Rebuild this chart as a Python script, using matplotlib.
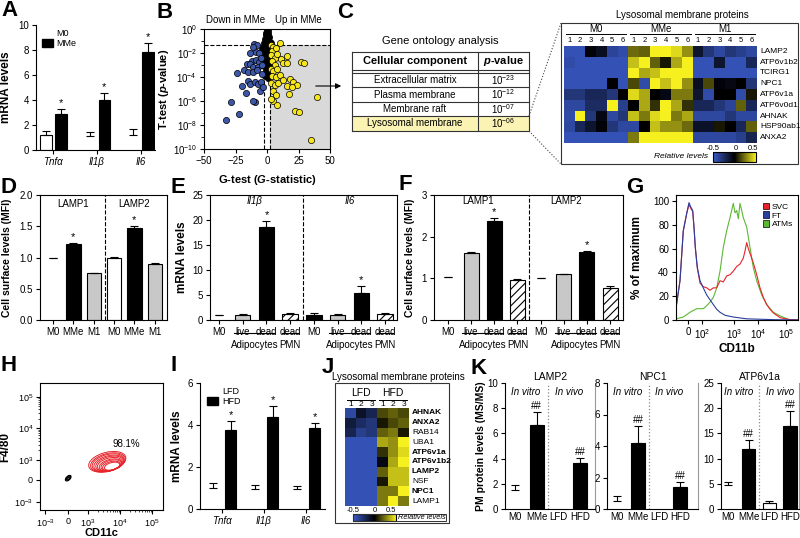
import numpy as np
import matplotlib
matplotlib.use('Agg')
import matplotlib.pyplot as plt
from matplotlib.colors import LinearSegmentedColormap, Normalize
from matplotlib.patches import Rectangle, Ellipse, Patch
from matplotlib.cm import ScalarMappable

# ======================= DATA =======================
A_genes = ['Tnfα', 'Il1β', 'Il6']
A_m0 = [1.2, 1.1, 1.2]
A_m0_err = [0.32, 0.35, 0.45]
A_mme = [2.9, 4.0, 7.85]
A_mme_err = [0.38, 0.56, 0.72]

B_down_x = [-10.3, -7.7, -13.5, -8.7, -6.6, -12.2, -8.7, -6.1, -16.1, -13.5, -10.8, -6.9, -4.2, -18.3,
            -14.8, -10.8, -7.7, -4.2, -23.5, -20.1, -16.7, -15.3, -13.5, -9.5, -6.9, -5.6, -9.5, -10.8,
            -28.6, -22.0, -32.5, -4.5, -3.0, -11.5, -5.0]
B_down_lp = [-1.26, -1.34, -1.96, -1.9, -2.04, -2.66, -2.55, -2.75, -2.88, -2.88, -3.17, -3.17, -3.03,
             -3.45, -3.59, -3.59, -3.45, -3.73, -3.65, -4.79, -5.35, -4.37, -4.57, -4.43, -4.57, -5.13,
             -6.11, -5.97, -6.05, -7.1, -7.6, -4.4, -4.8, -1.5, -2.4]
B_ns_x = [0, 0.5, -0.5, 1, -1, 0, 1.5, -1.5, 0.5, -0.5, 2, -2, 1, -1, 2.5, -2.5, 0, 1.5, -1.5, 3, -3,
          0.5, 2, -2, 1, -1, 3, -3, 0, 2, -2, 1, -1, 2.5, -1.5, 0.5, -3.5, 4, -4, 3.5]
B_ns_lp = [-0.05, -0.2, -0.3, -0.45, -0.5, -0.6, -0.7, -0.8, -0.9, -1.0, -1.1, -1.15, -1.25, -1.35, -1.4,
           -1.5, -1.5, -1.65, -1.7, -1.8, -1.9, -1.95, -2.1, -2.2, -2.35, -2.5, -2.6, -2.7, -2.8, -3.0,
           -3.1, -3.3, -3.5, -3.7, -3.9, -4.1, -2.3, -2.0, -1.6, -1.2]
B_up_x = [3, 5, 4, 7, 3.5, 6, 8, 4, 6.5, 3, 5, 8, 4, 7, 3.5, 6, 9, 4.5, 7.5, 5, 8, 3, 10, 11,
          10.3, 15.9, 12.7, 15.9, 27.0, 29.4, 12.7, 18.3, 20.6, 15.9, 23.8, 19.8, 17.5, 39.7, 22.2, 25.4, 34.9]
B_up_lp = [-1.3, -1.5, -1.8, -1.6, -2.2, -2.4, -2.1, -2.7, -3.0, -3.3, -3.5, -3.3, -3.9, -4.0, -4.5, -4.7,
           -4.5, -5.2, -5.5, -6.0, -6.3, -5.8, -3.8, -2.5,
           -1.18, -2.27, -2.86, -2.86, -2.77, -2.86, -4.29, -4.2, -4.45, -4.79, -4.7, -4.87, -5.38, -5.63,
           -6.8, -6.9, -9.24]

C_terms = ['Extracellular matrix', 'Plasma membrane', 'Membrane raft', 'Lysosomal membrane']
C_pexp = ['-23', '-12', '-07', '-06']
C_groups = ['M0', 'MMe', 'M1']
C_proteins = ['LAMP2', 'ATP6v1b2', 'TCIRG1', 'NPC1', 'ATP6v1a', 'ATP6v0d1', 'AHNAK', 'HSP90ab1', 'ANXA2']
C_heat = [
    [-0.45, -0.45, -0.02, -0.08, -0.38, -0.42, 0.22, 0.2, 0.5, 0.5, 0.45, 0.3, -0.12, -0.3, -0.4, -0.3, -0.35, -0.4],
    [-0.42, -0.45, -0.45, -0.45, -0.45, -0.45, 0.4, 0.5, 0.2, 0.05, 0.35, 0.5, -0.45, -0.45, -0.12, -0.45, -0.45, -0.22],
    [-0.45, -0.45, -0.45, -0.45, -0.45, -0.45, 0.5, 0.35, 0.4, 0.5, 0.5, 0.5, -0.45, -0.45, -0.45, -0.45, -0.45, -0.45],
    [-0.45, -0.45, -0.45, -0.45, 0.0, -0.45, 0.15, -0.42, 0.5, 0.4, 0.5, 0.3, -0.08, 0.15, -0.02, -0.05, 0.0, -0.3],
    [-0.3, -0.3, -0.22, -0.22, -0.3, 0.0, 0.45, 0.35, 0.0, -0.05, 0.25, 0.25, -0.12, -0.42, 0.0, 0.0, -0.42, 0.05],
    [-0.4, -0.4, -0.25, -0.25, 0.5, -0.35, 0.0, 0.35, 0.1, 0.5, 0.35, 0.1, -0.22, -0.22, -0.3, -0.38, 0.2, -0.22],
    [-0.42, 0.5, -0.3, -0.05, -0.4, -0.3, 0.4, 0.25, 0.45, 0.5, 0.25, 0.35, -0.4, -0.4, -0.4, -0.3, -0.4, -0.4],
    [-0.4, -0.22, -0.12, -0.02, -0.3, -0.4, -0.4, 0.0, 0.4, 0.3, 0.3, 0.22, -0.1, -0.1, 0.05, 0.0, -0.22, 0.2],
    [-0.45, -0.45, -0.45, -0.45, -0.45, -0.45, 0.25, 0.5, 0.5, 0.5, 0.5, 0.5, -0.4, -0.4, -0.4, -0.4, -0.35, -0.2],
]

D_groups = ['LAMP1', 'LAMP2']
D_labels = ['M0', 'MMe', 'M1', 'M0', 'MMe', 'M1']
D_vals = [1.0, 1.22, 0.75, 1.0, 1.48, 0.89]
D_err = [0.0, 0.01, 0.01, 0.01, 0.02, 0.03]

E_genes = ['Il1β', 'Il6']
E_labels = ['M0', 'live', 'dead', 'dead', 'M0', 'live', 'dead', 'dead']
E_vals = [1.0, 1.1, 18.7, 1.3, 1.1, 1.0, 5.4, 1.3]
E_err = [0.05, 0.12, 1.1, 0.12, 0.3, 0.15, 1.5, 0.15]

F_groups = ['LAMP1', 'LAMP2']
F_labels = ['M0', 'live', 'dead', 'dead', 'M0', 'live', 'dead', 'dead']
F_vals = [1.03, 1.6, 2.37, 0.96, 1.0, 1.1, 1.63, 0.77]
F_err = [0.01, 0.03, 0.08, 0.02, 0.01, 0.01, 0.03, 0.04]

G_tick_u = [12, 26, 58, 82, 110]
G_tick_labels = ['0', '10$^2$', '10$^3$', '10$^4$', '10$^5$']
G_ft_u = [0, 4, 7.3, 10.7, 13, 14.7, 16.7, 18, 19.3, 21.3, 24, 27.3, 30.7, 34, 37.3, 40.7, 44, 49, 57.3, 70.7, 97.3, 122]
G_ft_y = [10, 33, 75, 89.5, 98.6, 95, 92, 78, 61, 44, 33, 27, 21, 17, 13, 9, 6.5, 4, 2.5, 1, 0.3, 0]
G_svc_u = [0, 4, 7.3, 10.7, 13, 14.7, 16.7, 18, 19.3, 21.3, 24, 27.3, 30.7, 34, 37.3, 40.7, 44, 47.3, 50.7, 54,
           57.3, 60.7, 64, 67.3, 69, 70.7, 72.3, 74, 77.3, 80.7, 84, 87.3, 90.7, 94, 97.3, 104, 112.3, 122]
G_svc_y = [10, 33, 75, 89.5, 97, 94, 91, 78, 61, 44, 31, 28, 27, 25, 27, 27, 33, 32, 37, 38,
           41, 45, 47, 52, 58, 65, 60, 56, 48, 38, 27, 19, 13, 9, 6, 2, 0.5, 0]
G_atm_u = [0, 7.3, 14, 20.7, 27.3, 30.7, 34, 37.3, 40.7, 44, 47.3, 50.7, 54, 57.3, 59, 60.7, 62.3, 64, 65.7,
           67.3, 70.7, 74, 77.3, 80.7, 85.7, 90.7, 97.3, 104, 112.3, 122]
G_atm_y = [1, 2.5, 6.5, 9.5, 9.5, 12, 15, 19, 27, 41, 61, 75, 86, 98, 90, 92, 85, 98, 92,
           86, 78, 61, 44, 33, 21, 13, 6.5, 3.5, 0.5, 0]

H_tick_pos = [1.66, 2.375, 3, 4, 5]
H_tick_labels = ['10$^{-3}$', '0', '10$^3$', '10$^4$', '10$^5$']
H_red_cx = [3.60, 3.62, 3.63, 3.65, 3.67, 3.68, 3.70, 3.72, 3.73, 3.75]
H_red_cy = [2.94, 2.92, 2.91, 2.89, 2.88, 2.86, 2.84, 2.83, 2.81, 2.80]
H_red_w = [1.19, 1.11, 1.03, 0.96, 0.88, 0.80, 0.72, 0.65, 0.57, 0.49]
H_red_h = [0.60, 0.56, 0.52, 0.48, 0.44, 0.40, 0.35, 0.31, 0.27, 0.23]
H_red_ang = [15, 15, 15, 15, 15, 15, 15, 15, 15, 15]
H_blk_cx = [2.38, 2.39, 2.40]
H_blk_cy = [2.42, 2.42, 2.42]
H_blk_w = [0.22, 0.16, 0.10]
H_blk_h = [0.12, 0.09, 0.05]
H_pct = '98.1%'

I_genes = ['Tnfα', 'Il1β', 'Il6']
I_lfd = [1.0, 0.95, 0.95]
I_lfd_err = [0.24, 0.2, 0.16]
I_hfd = [3.76, 4.38, 3.86]
I_hfd_err = [0.43, 0.52, 0.24]

J_groups = ['LFD', 'HFD']
J_proteins = ['AHNAK', 'ANXA2', 'RAB14', 'UBA1', 'ATP6v1a', 'ATP6v1b2', 'LAMP2', 'NSF', 'NPC1', 'LAMP1']
J_bold = [True, True, False, False, True, True, True, False, True, False]
J_heat = [
    [-0.4, -0.1, -0.2, 0.15, 0.2, 0.15],
    [-0.15, -0.25, -0.3, 0.05, 0.15, 0.2],
    [-0.2, -0.35, -0.3, 0.2, 0.25, 0.05],
    [-0.45, -0.45, -0.45, 0.35, 0.3, 0.5],
    [-0.45, -0.45, -0.45, 0.1, 0.3, 0.45],
    [-0.45, -0.45, -0.45, -0.05, 0.35, 0.5],
    [-0.45, -0.45, -0.45, 0.2, 0.4, 0.4],
    [-0.45, -0.45, -0.45, 0.05, 0.4, 0.4],
    [-0.45, -0.45, -0.45, 0.25, 0.25, 0.5],
    [-0.45, -0.45, -0.45, 0.25, 0.5, 0.25],
]

K_titles = ['LAMP2', 'NPC1', 'ATP6v1a']
K_cats = ['M0', 'MMe', 'LFD', 'HFD']
K_vals = [[1.5, 6.68, None, 3.69], [0.5, 4.22, None, 1.38], [4.8, 11.87, 1.1, 16.4]]
K_err = [[0.4, 0.99, 0, 0.34], [0.3, 1.02, 0, 0.32], [0.6, 1.83, 0.56, 3.0]]

# ======================= STYLE / HELPERS =======================
plt.rcParams['font.family'] = ['Liberation Sans', 'DejaVu Sans']
plt.rcParams['font.size'] = 7
plt.rcParams['mathtext.fontset'] = 'custom'
plt.rcParams['mathtext.rm'] = 'Liberation Sans'
plt.rcParams['mathtext.it'] = 'Liberation Sans:italic:bold'
plt.rcParams['mathtext.bf'] = 'Liberation Sans:bold'
plt.rcParams['hatch.linewidth'] = 0.8
plt.rcParams['axes.linewidth'] = 0.8

W, H = 800, 538
fig = plt.figure(figsize=(8, 5.38), dpi=100)

def add_ax(l, t, r, b):
    return fig.add_axes([l / W, 1 - b / H, (r - l) / W, (b - t) / H])

def style(ax, box=False, labelsize=7):
    ax.spines['top'].set_visible(box)
    ax.spines['right'].set_visible(box)
    ax.tick_params(direction='out', length=3, width=0.8, labelsize=labelsize, pad=2)

def bar(ax, x, v, e, fc, ec, w, hatch=None, cap=3):
    if v is None:
        return
    ax.bar([x], [v], w, color=fc, edgecolor=ec, linewidth=0.8, hatch=hatch, zorder=2)
    ax.errorbar([x], [v], yerr=[[0], [e]], fmt='none', ecolor='black', elinewidth=0.8,
                capsize=cap, capthick=0.8, zorder=3)

def ylab(ax, text, frac, size=8):
    ax.set_ylabel(text, fontsize=size, fontweight='bold')
    ax.yaxis.set_label_coords(frac, 0.5)

GRAY = '#c8c8c8'
cmap = LinearSegmentedColormap.from_list('byk', ['#3a5ac8', '#000000', '#f6f01e'])

# ======================= A =======================
axA = add_ax(36, 25, 155, 150)
style(axA)
xa = np.arange(len(A_genes))
for i in range(len(A_genes)):
    bar(axA, xa[i] - 0.17, A_m0[i], A_m0_err[i], 'white', 'black' if i == 0 else 'none', 0.27)
    bar(axA, xa[i] + 0.17, A_mme[i], A_mme_err[i], 'black', 'black', 0.27)
    axA.text(xa[i] + 0.17, A_mme[i] + A_mme_err[i] + 0.1, '*', ha='center', va='bottom', fontsize=8)
axA.set_xlim(-0.4, 2.33)
axA.set_ylim(0, 10)
axA.set_yticks(range(0, 11, 2))
axA.set_xticks(xa)
axA.set_xticklabels(A_genes, fontstyle='italic')
ylab(axA, 'mRNA levels', -0.2, 8.5)
axA.legend(handles=[Patch(facecolor='white', edgecolor='none', label='M0'),
                    Patch(facecolor='black', edgecolor='black', label='MMe')],
           loc='upper left', bbox_to_anchor=(0.02, 1.0), frameon=False, fontsize=6.5,
           handlelength=1.2, handleheight=1.0, labelspacing=0.15, handletextpad=0.4, borderaxespad=0)

# ======================= B =======================
axB = add_ax(204, 29, 330, 149)
style(axB, box=True)
axB.set_yscale('log')
axB.set_xlim(-50, 50)
axB.set_ylim(1e-10, 1)
axB.fill_between([2, 50], 1e-10, 0.05, color='#d9d9d9', lw=0, zorder=0)
axB.axhline(0.05, ls='--', lw=0.8, color='black', zorder=1)
axB.plot([-2, -2], [1e-10, 0.05], ls='--', lw=0.8, color='black', zorder=1)
axB.plot([2, 2], [1e-10, 0.05], ls='--', lw=0.8, color='black', zorder=1)
axB.scatter(B_ns_x, 10.0 ** np.array(B_ns_lp), s=20, c='black', edgecolors='black', linewidths=0.5, zorder=3)
axB.scatter(B_down_x, 10.0 ** np.array(B_down_lp), s=20, c='#3c57a8', edgecolors='black', linewidths=0.5, zorder=4)
axB.scatter(B_up_x, 10.0 ** np.array(B_up_lp), s=20, c='#f5e61e', edgecolors='black', linewidths=0.5, zorder=4)
axB.set_xticks([-50, -25, 0, 25, 50])
axB.set_yticks([1e0, 1e-2, 1e-4, 1e-6, 1e-8, 1e-10])
axB.set_yticklabels(['10$^{0}$', '10$^{-2}$', '10$^{-4}$', '10$^{-6}$', '10$^{-8}$', '10$^{-10}$'])
axB.set_yticks([1e-1, 1e-3, 1e-5, 1e-7, 1e-9], minor=True)
axB.tick_params(which='minor', length=2, width=0.6)
axB.yaxis.set_minor_formatter(matplotlib.ticker.NullFormatter())
ylab(axB, r'T-test ($\it{p}$-value)', -0.26, 8)
axB.set_xlabel(r'G-test ($\it{G}$-statistic)', fontsize=8, fontweight='bold')
axB.xaxis.set_label_coords(0.5, -0.2)

# ======================= C heatmap =======================
axC = add_ax(564, 46, 757, 143)
axC.imshow(np.array(C_heat), cmap=cmap, vmin=-0.5, vmax=0.5, aspect='auto', interpolation='nearest')
axC.axis('off')
caxC = add_ax(713, 152, 756, 162)
cbC = fig.colorbar(ScalarMappable(norm=Normalize(-0.5, 0.5), cmap=cmap), cax=caxC, orientation='horizontal')
cbC.set_ticks([])
cbC.outline.set_linewidth(0.8)

# ======================= D =======================
axD = add_ax(40, 195, 167, 320)
style(axD, box=True)
xd = np.arange(len(D_labels))
D_fc = ['white', 'black', GRAY, 'white', 'black', GRAY]
D_ec = ['none', 'black', 'black', 'black', 'black', 'black']
for i in range(len(D_labels)):
    bar(axD, xd[i], D_vals[i], D_err[i], D_fc[i], D_ec[i], 0.7)
    if D_labels[i] == 'MMe':
        axD.text(xd[i], D_vals[i] + D_err[i] + 0.02, '*', ha='center', va='bottom', fontsize=8)
axD.axvline(2.55, ls='--', lw=0.8, color='black')
axD.set_xlim(-0.64, 5.6)
axD.set_ylim(0, 2)
axD.set_yticks([0, 0.5, 1.0, 1.5, 2.0])
axD.set_yticklabels(['0.0', '0.5', '1.0', '1.5', '2.0'])
axD.set_xticks(xd)
axD.set_xticklabels(D_labels)
for k, g in enumerate(D_groups):
    axD.text(1 + 3 * k, 0.93, g, transform=axD.get_xaxis_transform(), ha='center', va='center', fontsize=7)
ylab(axD, 'Cell surface levels (MFI)', -0.22, 7.5)

# ======================= E & F =======================
def stim_panel(ax, vals, errs, labels, groups, group_x, italic, ylim, yticks, m0_bar_second):
    style(ax, box=True)
    x = np.arange(len(vals))
    fcs = ['white', GRAY, 'black', 'white'] * 2
    ecs = ['none', 'black', 'black', 'black'] * 2
    if m0_bar_second:
        fcs[4], ecs[4] = 'black', 'black'
    hatches = [None, None, None, '////'] * 2
    for i in range(len(vals)):
        bar(ax, x[i], vals[i], errs[i], fcs[i], ecs[i], 0.65, hatch=hatches[i])
        if i in (2, 6):
            ax.text(x[i], vals[i] + errs[i] + ylim * 0.005, '*', ha='center', va='bottom', fontsize=8)
    ax.axvline(3.52, ls='--', lw=0.8, color='black')
    ax.set_ylim(0, ylim)
    ax.set_yticks(yticks)
    ax.set_xticks(x)
    ax.set_xticklabels(labels)
    tr = ax.get_xaxis_transform()
    for k, g in enumerate(groups):
        ax.text(group_x[k], 0.95, g, transform=tr, ha='center', va='center', fontsize=7,
                fontstyle='italic' if italic else 'normal')
        ax.plot([0.62 + 4 * k, 2.38 + 4 * k], [-0.1, -0.1], transform=tr, color='black', lw=0.8, clip_on=False)
        ax.plot([2.65 + 4 * k, 3.35 + 4 * k], [-0.1, -0.1], transform=tr, color='black', lw=0.8, clip_on=False)
        ax.text(1.5 + 4 * k, -0.2, 'Adipocytes', transform=tr, ha='center', va='center', fontsize=7)
        ax.text(3.0 + 4 * k, -0.2, 'PMN', transform=tr, ha='center', va='center', fontsize=7)

axE = add_ax(210, 195, 397, 320)
stim_panel(axE, E_vals, E_err, E_labels, E_genes, [1.5, 5.5], True, 25, range(0, 26, 5), True)
axE.set_xlim(-0.38, 7.5)
ylab(axE, 'mRNA levels', -0.12, 8.5)

axF = add_ax(434, 195, 623, 320)
stim_panel(axF, F_vals, F_err, F_labels, F_groups, [1.3, 5.1], False, 3, [0, 1, 2, 3], False)
axF.set_xlim(-0.6, 7.56)
ylab(axF, 'Cell surface levels (MFI)', -0.1, 7.5)

# ======================= G =======================
axG = add_ax(676, 195, 798, 320)
style(axG, box=True)
axG.plot(G_atm_u, G_atm_y, color='#5cb833', lw=0.8, label='ATMs')
axG.plot(G_svc_u, G_svc_y, color='#e8232a', lw=0.8, label='SVC')
axG.plot(G_ft_u, G_ft_y, color='#2a3fa0', lw=0.8, label='FT')
axG.set_xlim(0, 122)
axG.set_ylim(0, 105)
axG.set_yticks(range(0, 101, 20))
axG.set_xticks(G_tick_u)
axG.set_xticklabels(G_tick_labels)
ylab(axG, '% of maximum', -0.27, 8.5)
axG.set_xlabel('CD11b', fontsize=8.5, fontweight='bold')
axG.xaxis.set_label_coords(0.5, -0.18)
axG.legend(handles=[Patch(facecolor='#e8232a', edgecolor='black', lw=0.5, label='SVC'),
                    Patch(facecolor='#2a3fa0', edgecolor='black', lw=0.5, label='FT'),
                    Patch(facecolor='#5cb833', edgecolor='black', lw=0.5, label='ATMs')],
           loc='upper right', bbox_to_anchor=(1.0, 0.98), frameon=False, fontsize=6,
           handlelength=0.8, handleheight=0.8, labelspacing=0.1, handletextpad=0.3, borderaxespad=0.2)

# ======================= H =======================
axH = add_ax(40, 383, 163, 510)
style(axH, box=True, labelsize=6.5)
for i in range(len(H_red_cx)):
    axH.add_patch(Ellipse((H_red_cx[i], H_red_cy[i]), H_red_w[i], H_red_h[i], angle=H_red_ang[i],
                          fill=False, edgecolor='#e8232a', lw=0.7))
for i in range(len(H_blk_cx)):
    axH.add_patch(Ellipse((H_blk_cx[i], H_blk_cy[i]), H_blk_w[i], H_blk_h[i], angle=45,
                          fill=False, edgecolor='black', lw=0.8))
axH.text(4.2, 3.5, H_pct, ha='center', va='center', fontsize=7)
axH.set_xlim(1.5, 5.34)
axH.set_ylim(1.41, 5.44)
axH.set_xticks(H_tick_pos)
axH.set_xticklabels(H_tick_labels)
axH.set_yticks(H_tick_pos)
axH.set_yticklabels(H_tick_labels)
minor = [d + np.log10(k) for d in (3, 4) for k in range(2, 10)]
axH.set_xticks(minor, minor=True)
axH.set_yticks(minor, minor=True)
axH.tick_params(which='minor', length=1.5, width=0.5)
ylab(axH, 'F4/80', -0.23, 8.5)
axH.set_xlabel('CD11c', fontsize=8, fontweight='bold')
axH.xaxis.set_label_coords(0.5, -0.14)

# ======================= I =======================
axI = add_ax(200, 383, 325, 509)
style(axI)
xi = np.arange(len(I_genes))
for i in range(len(I_genes)):
    bar(axI, xi[i] - 0.21, I_lfd[i], I_lfd_err[i], 'white', 'none', 0.26)
    bar(axI, xi[i] + 0.21, I_hfd[i], I_hfd_err[i], 'black', 'black', 0.26)
    axI.text(xi[i] + 0.21, I_hfd[i] + I_hfd_err[i] + 0.05, '*', ha='center', va='bottom', fontsize=8)
axI.set_xlim(-0.52, 2.45)
axI.set_ylim(0, 6)
axI.set_yticks([0, 2, 4, 6])
axI.set_xticks(xi)
axI.set_xticklabels(I_genes, fontstyle='italic')
ylab(axI, 'mRNA levels', -0.14, 8.5)
axI.legend(handles=[Patch(facecolor='white', edgecolor='none', label='LFD'),
                    Patch(facecolor='black', edgecolor='black', label='HFD')],
           loc='upper left', bbox_to_anchor=(0.03, 1.0), frameon=False, fontsize=6.5,
           handlelength=1.2, handleheight=1.0, labelspacing=0.15, handletextpad=0.4, borderaxespad=0)

# ======================= J =======================
axJ = add_ax(345, 408, 409, 506)
axJ.imshow(np.array(J_heat), cmap=cmap, vmin=-0.5, vmax=0.5, aspect='auto', interpolation='nearest')
axJ.axis('off')
caxJ = add_ax(353, 514, 396, 521)
cbJ = fig.colorbar(ScalarMappable(norm=Normalize(-0.5, 0.5), cmap=cmap), cax=caxJ, orientation='horizontal')
cbJ.set_ticks([])
cbJ.outline.set_linewidth(0.8)

# ======================= K =======================
K_px = [(505, 595), (607, 698), (721, 799)]
K_xlim = [(-0.46, 3.69), (-0.48, 3.86), (-0.34, 3.43)]
K_ymax = [10, 8, 25]
K_step = [2, 2, 5]
for p in range(3):
    ax = add_ax(K_px[p][0], 383, K_px[p][1], 509)
    style(ax)
    ax.spines['right'].set_visible(True)
    ax.spines['right'].set_color('#999999')
    fcs = ['white', 'black', 'white', 'black']
    ecs = ['none', 'black', 'black', 'black']
    for i in range(4):
        bar(ax, i, K_vals[p][i], K_err[p][i], fcs[i], ecs[i], 0.65)
        if K_cats[i] in ('MMe', 'HFD'):
            ax.text(i, K_vals[p][i] + K_err[p][i] + K_ymax[p] * 0.01, '##', ha='center', va='bottom', fontsize=7)
    ax.axvline(1.5, ls=':', lw=0.9, color='#888888')
    ax.set_xlim(*K_xlim[p])
    ax.set_ylim(0, K_ymax[p])
    ax.set_yticks(range(0, K_ymax[p] + 1, K_step[p]))
    ax.set_xticks(range(4))
    ax.set_xticklabels(K_cats)
    ax.tick_params(axis='x', length=0)
    ax.set_title(K_titles[p], fontsize=7.5, pad=2)
    ax.text(0.5, 0.93, 'In vitro', transform=ax.get_xaxis_transform(), ha='center', va='center',
            fontsize=7, fontstyle='italic')
    ax.text(2.5, 0.93, 'In vivo', transform=ax.get_xaxis_transform(), ha='center', va='center',
            fontsize=7, fontstyle='italic')
    if p == 0:
        ylab(ax, 'PM protein levels (MS/MS)', -0.21, 7.5)

# ======================= OVERLAY (pixel coordinates) =======================
ov = fig.add_axes([0, 0, 1, 1], zorder=10)
ov.set_xlim(0, W)
ov.set_ylim(H, 0)
ov.axis('off')

for letter, (x, y) in zip('ABCDEFGHIJK', [(1, 0), (157, 2), (337, 2), (1, 177), (171, 177), (398, 174),
                                          (626, 177), (1, 355), (170, 355), (322, 357), (470, 358)]):
    ov.text(x, y, letter, fontsize=16, fontweight='bold', va='top', ha='left')

# B annotations
ov.text(236, 20, 'Down in MMe', ha='center', va='center', fontsize=7)
ov.text(298, 20, 'Up in MMe', ha='center', va='center', fontsize=7)
ov.annotate('', xy=(344, 86), xytext=(313, 86),
            arrowprops=dict(arrowstyle='-|>', color='black', lw=0.8, mutation_scale=8))

# C table
tx0, tx1, tcol = 352, 529, 478
ov.add_patch(Rectangle((tx0, 116), tx1 - tx0, 15, facecolor='#faf3b4', edgecolor='none'))
for yy in [52, 70, 73, 87, 102, 116, 131]:
    ov.plot([tx0, tx1], [yy, yy], color='#333333', lw=0.8)
for xx in [tx0, tcol, tx1]:
    ov.plot([xx, xx], [52, 131], color='#333333', lw=0.8)
ov.text((tx0 + tx1) / 2, 41, 'Gene ontology analysis', ha='center', va='center', fontsize=8)
ov.text((tx0 + tcol) / 2, 61, 'Cellular component', ha='center', va='center', fontsize=8, fontweight='bold')
ov.text((tcol + tx1) / 2, 61, r'$\it{p}$-value', ha='center', va='center', fontsize=8, fontweight='bold')
for k, (term, ex) in enumerate(zip(C_terms, C_pexp)):
    yy = [80, 94.5, 109, 123.5][k]
    ov.text((tx0 + tcol) / 2, yy, term, ha='center', va='center', fontsize=7)
    ov.text((tcol + tx1) / 2, yy, '10$^{' + ex + '}$', ha='center', va='center', fontsize=7)
ov.plot([529, 561], [116, 23], ls=':', lw=0.8, color='#444444')
ov.plot([529, 561], [131, 164], ls=':', lw=0.8, color='#444444')

# C heat box and labels
ov.add_patch(Rectangle((561, 23), 237, 141, fill=False, edgecolor='#333333', lw=0.8))
ov.text(682, 15, 'Lysosomal membrane proteins', ha='center', va='center', fontsize=7)
cw = (757 - 564) / 18
for g, name in enumerate(C_groups):
    gx0 = 564 + g * 6 * cw
    ov.text(gx0 + 3 * cw, 29, name, ha='center', va='center', fontsize=7)
    ov.plot([gx0 + 2, gx0 + 6 * cw - 2], [34, 34], color='black', lw=0.7)
    for c in range(6):
        ov.text(gx0 + (c + 0.5) * cw, 41, str(c + 1), ha='center', va='center', fontsize=5.5)
ch = (143 - 46) / len(C_proteins)
for r, name in enumerate(C_proteins):
    ov.text(760, 46 + (r + 0.5) * ch, name, ha='left', va='center', fontsize=6)
ov.text(713, 148, '-0.5', ha='center', va='center', fontsize=5.5)
ov.text(736, 148, '0', ha='center', va='center', fontsize=5.5)
ov.text(753, 148, '0.5', ha='center', va='center', fontsize=5.5)
ov.text(708, 157, 'Relative levels', ha='right', va='center', fontsize=6, fontstyle='italic')

# J box and labels
ov.add_patch(Rectangle((335, 383), 114, 140, fill=False, edgecolor='#333333', lw=0.8))
ov.text(398, 377, 'Lysosomal membrane proteins', ha='center', va='center', fontsize=7)
jw = (409 - 345) / 6
for g, name in enumerate(J_groups):
    gx0 = 345 + g * 3 * jw
    ov.text(gx0 + 1.5 * jw, 393, name, ha='center', va='center', fontsize=7.5)
    ov.plot([gx0 + 2, gx0 + 3 * jw - 2], [399.5, 399.5], color='black', lw=0.7)
    for c in range(3):
        ov.text(gx0 + (c + 0.5) * jw, 404, str(c + 1), ha='center', va='center', fontsize=6)
jh = (506 - 408) / len(J_proteins)
for r, name in enumerate(J_proteins):
    ov.text(412, 408 + (r + 0.5) * jh, name, ha='left', va='center', fontsize=6,
            fontweight='bold' if J_bold[r] else 'normal')
ov.text(353, 510, '-0.5', ha='center', va='center', fontsize=5.5)
ov.text(375, 510, '0', ha='center', va='center', fontsize=5.5)
ov.text(391, 510, '0.5', ha='center', va='center', fontsize=5.5)
ov.add_patch(Rectangle((353, 514), 93, 7, fill=False, edgecolor='#333333', lw=0.7))
ov.text(398, 517.5, 'Relative levels', ha='left', va='center', fontsize=5.3, fontstyle='italic')

fig.savefig('out.png', dpi=100)
